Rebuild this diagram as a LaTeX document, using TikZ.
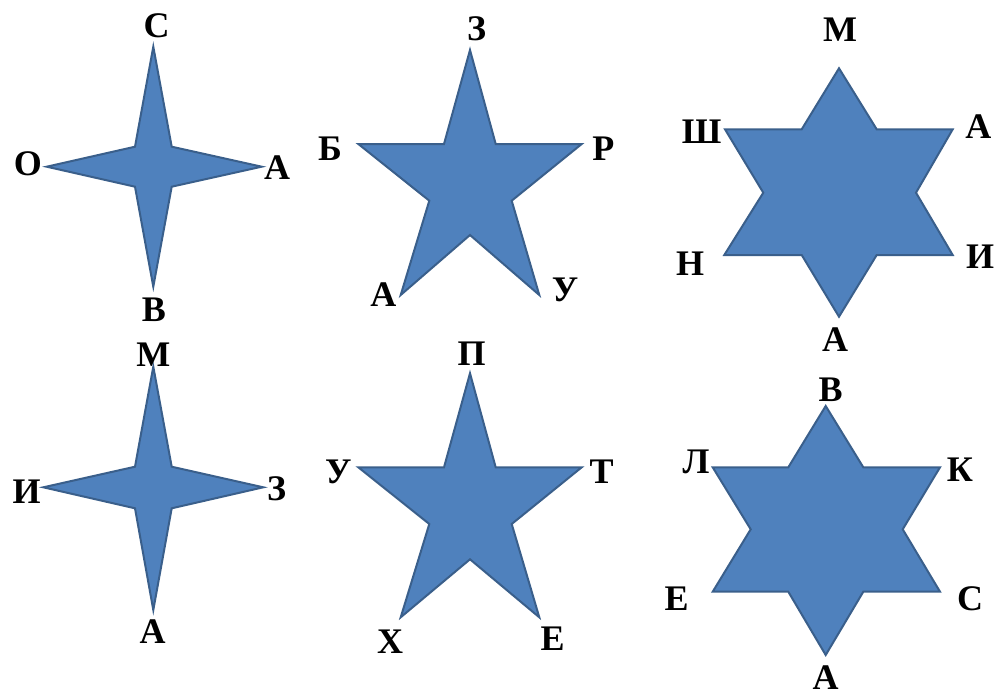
\documentclass[tikz,border=0pt]{standalone}
\usepackage{fontspec}
\setmainfont{Liberation Serif}
\definecolor{starfill}{HTML}{4F81BD}
\definecolor{starline}{HTML}{3A5F8B}
\begin{document}
\begin{tikzpicture}[x=1pt,y=-1pt,
  star/.style={fill=starfill, draw=starline, line width=2pt, line join=miter},
  lbl/.style={font=\fontsize{36}{36}\selectfont\bfseries, inner sep=0pt, text=black}]
\useasboundingbox (0,0) rectangle (999,697);
% star 1 (four points, top left)
\draw[star] (153.3,46.7) -- (171.7,146.7) -- (261.7,166.7) -- (171.7,186.7) -- (153.3,286.7) -- (135,186.7) -- (46.7,166.7) -- (135,146.7) -- cycle;
\node[lbl] (s1n) at (156.7,26) {С};
\node[lbl] (s1w) at (28,164) {О};
\node[lbl] (s1e) at (277,168) {А};
\node[lbl] (s1s) at (154,310) {В};
% star 4 (four points, bottom left)
\draw[star] (153.3,366.7) -- (171.7,466.7) -- (263.3,487.3) -- (171.7,508.3) -- (153.3,610) -- (135,508.3) -- (43.3,487.3) -- (135,466.7) -- cycle;
\node[lbl] (s4n) at (153.3,355) {М};
\node[lbl] (s4w) at (26.7,491.7) {И};
\node[lbl] (s4e) at (276.7,488.3) {З};
\node[lbl] (s4s) at (152.7,631.7) {А};
% star 2 (five points, top middle)
\draw[star] (470,50) -- (495.7,144) -- (581.7,144) -- (511.7,200.7) -- (539.3,295) -- (470,235) -- (400.7,295) -- (429.3,200.7) -- (358.3,144) -- (444,144) -- cycle;
\node[lbl] (s2n) at (476.7,28.3) {З};
\node[lbl] (s2w) at (330,148.3) {Б};
\node[lbl] (s2e) at (603.3,148.3) {Р};
\node[lbl] (s2sw) at (383.3,295) {А};
\node[lbl] (s2se) at (565,290) {У};
% star 5 (five points, bottom middle)
\draw[star] (470,373.3) -- (495.7,467.3) -- (581.7,467.3) -- (511.7,524) -- (539.3,617.3) -- (470,559.3) -- (400.7,617.3) -- (429.3,524) -- (358.3,467.3) -- (444,467.3) -- cycle;
\node[lbl] (s5n) at (471.7,353.3) {П};
\node[lbl] (s5w) at (338.3,471.7) {У};
\node[lbl] (s5e) at (601.7,471.7) {Т};
\node[lbl] (s5sw) at (390,641.7) {Х};
\node[lbl] (s5se) at (552.7,638.3) {Е};
% star 3 (six points, top right)
\draw[star] (839,68.3) -- (876.7,129.3) -- (952.7,129.3) -- (916,192.7) -- (952.7,255) -- (876.7,255) -- (839,316.7) -- (801.7,255) -- (724.3,255) -- (763.3,192.7) -- (725,129.3) -- (801.7,129.3) -- cycle;
\node[lbl] (s3n) at (840,30) {М};
\node[lbl] (s3nw) at (701.7,131.7) {Ш};
\node[lbl] (s3ne) at (978.3,126.7) {А};
\node[lbl] (s3sw) at (690,263.3) {Н};
\node[lbl] (s3se) at (980,256.7) {И};
\node[lbl] (s3s) at (835,340) {А};
% star 6 (six points, bottom right)
\draw[star] (825.7,406) -- (863.3,467.3) -- (940,467.3) -- (902.7,529.3) -- (940,591.7) -- (863.3,591.7) -- (825.7,655) -- (788.3,591.7) -- (712.7,591.7) -- (750.7,529.3) -- (712.7,467.3) -- (788.3,467.3) -- cycle;
\node[lbl] (s6n) at (830.7,389.3) {В};
\node[lbl] (s6nw) at (696,461.7) {Л};
\node[lbl] (s6ne) at (960,470) {К};
\node[lbl] (s6sw) at (676.7,598.3) {Е};
\node[lbl] (s6se) at (970,598.3) {С};
\node[lbl] (s6s) at (825.7,678) {А};
\end{tikzpicture}
\end{document}
